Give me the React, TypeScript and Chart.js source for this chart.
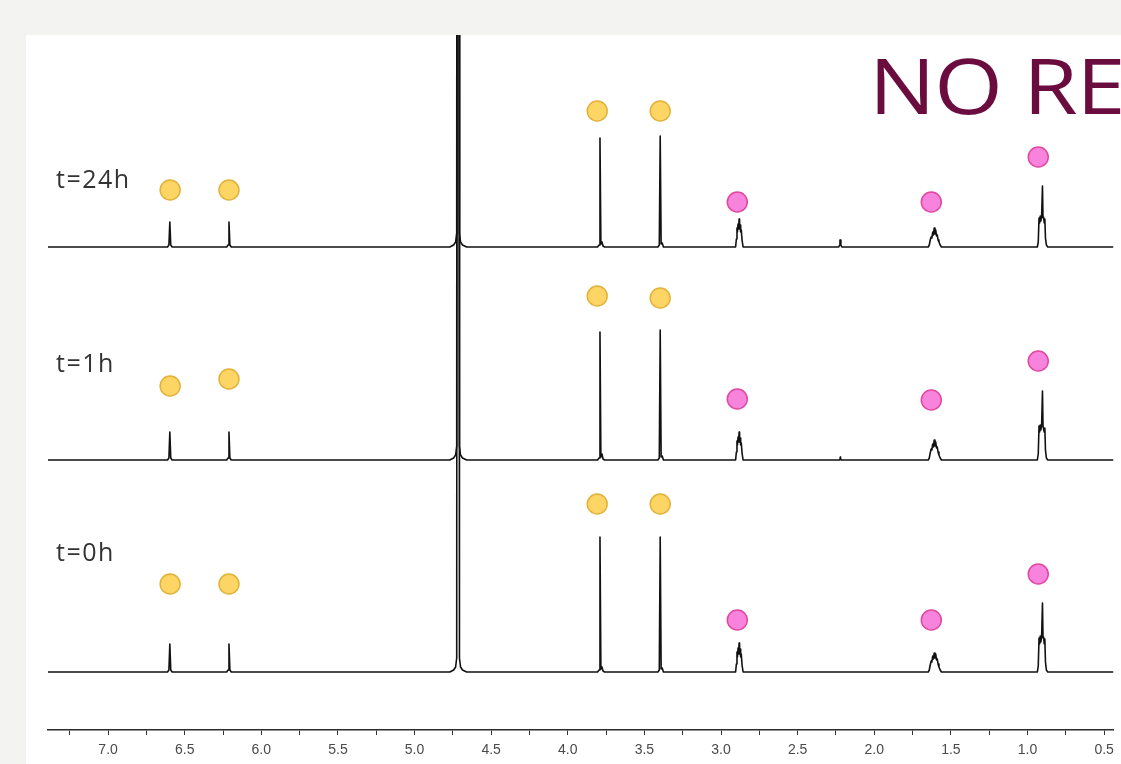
import React, { useEffect, useRef } from 'react';
import { Chart, registerables } from 'chart.js';

Chart.register(...registerables);

// ---- axis (ppm) ----
const ppmMin = 0.439;
const ppmMax = 7.392;
const majorTicks = [7.0, 6.5, 6.0, 5.5, 5.0, 4.5, 4.0, 3.5, 3.0, 2.5, 2.0, 1.5, 1.0, 0.5];
const minorTicks = [7.25, 6.75, 6.25, 5.75, 5.25, 4.75, 4.25, 3.75, 3.25, 2.75, 2.25, 1.75, 1.25, 0.75];

// ---- stacking (intensity units) ----
const spectrumLabels = ['t=0h', 't=1h', 't=24h'];
const stackOffsets = [58, 270, 483];
const intensityMax = 695;

// ---- spectra: [ppm, intensity above own baseline] ----
const spectrum0h: [number, number][] = [
  [7.392, 0],
  [6.612, 0], [6.603, 2], [6.597, 28], [6.591, 2], [6.582, 0],
  [6.226, 0], [6.217, 2], [6.211, 28], [6.205, 2], [6.196, 0],
  [4.77, 0], [4.745, 2], [4.732, 5], [4.725, 14], [4.7225, 900], [4.7095, 900], [4.707, 14], [4.70, 5], [4.687, 2], [4.66, 0],
  [3.806, 0], [3.796, 2], [3.790, 135], [3.784, 3], [3.777, 5], [3.770, 1], [3.760, 0],
  [3.412, 0], [3.403, 2], [3.397, 135], [3.391, 3], [3.384, 4], [3.376, 0],
  [2.905, 0], [2.900, 8], [2.896, 20], [2.893, 15], [2.889, 24], [2.886, 18], [2.882, 29], [2.879, 18], [2.875, 23], [2.872, 15], [2.868, 18], [2.863, 7], [2.856, 0],
  [1.648, 0], [1.641, 2], [1.635, 7], [1.629, 11], [1.624, 10], [1.619, 16], [1.614, 13], [1.609, 19], [1.604, 14], [1.599, 18], [1.594, 12], [1.589, 13], [1.584, 8], [1.578, 5], [1.570, 2], [1.562, 0],
  [0.936, 0], [0.930, 6], [0.925, 34], [0.921, 28], [0.917, 36], [0.913, 30], [0.908, 36], [0.9025, 69], [0.899, 34], [0.895, 35], [0.891, 28], [0.887, 33], [0.883, 10], [0.877, 2], [0.868, 0],
  [0.439, 0],
];

const spectrum1h: [number, number][] = [
  [7.392, 0],
  [6.612, 0], [6.603, 2], [6.597, 28], [6.591, 2], [6.582, 0],
  [6.226, 0], [6.217, 2], [6.211, 28], [6.205, 2], [6.196, 0],
  [4.77, 0], [4.745, 2], [4.732, 5], [4.725, 14], [4.7225, 900], [4.7095, 900], [4.707, 14], [4.70, 5], [4.687, 2], [4.66, 0],
  [3.806, 0], [3.796, 2], [3.790, 128], [3.784, 3], [3.777, 6], [3.770, 1], [3.760, 0],
  [3.412, 0], [3.403, 2], [3.397, 130], [3.391, 3], [3.384, 4], [3.376, 0],
  [2.905, 0], [2.900, 8], [2.896, 19], [2.893, 15], [2.889, 23], [2.886, 18], [2.882, 28], [2.879, 18], [2.875, 22], [2.872, 15], [2.868, 17], [2.863, 7], [2.856, 0],
  [2.230, 0], [2.224, 1], [2.222, 3], [2.220, 1], [2.214, 0],
  [1.648, 0], [1.641, 2], [1.635, 7], [1.629, 11], [1.624, 10], [1.619, 16], [1.614, 13], [1.609, 20], [1.604, 14], [1.599, 18], [1.594, 12], [1.589, 13], [1.584, 8], [1.578, 5], [1.570, 2], [1.562, 0],
  [0.936, 0], [0.930, 6], [0.925, 34], [0.921, 28], [0.917, 35], [0.913, 30], [0.908, 35], [0.9025, 69], [0.899, 34], [0.895, 34], [0.891, 28], [0.887, 32], [0.883, 10], [0.877, 2], [0.868, 0],
  [0.439, 0],
];

const spectrum24h: [number, number][] = [
  [7.392, 0],
  [6.612, 0], [6.603, 2], [6.597, 25], [6.591, 2], [6.582, 0],
  [6.226, 0], [6.217, 2], [6.211, 25], [6.205, 2], [6.196, 0],
  [4.77, 0], [4.745, 2], [4.732, 5], [4.725, 14], [4.7225, 900], [4.7095, 900], [4.707, 14], [4.70, 5], [4.687, 2], [4.66, 0],
  [3.806, 0], [3.796, 2], [3.790, 109], [3.784, 3], [3.777, 5], [3.770, 1], [3.760, 0],
  [3.412, 0], [3.403, 2], [3.397, 111], [3.391, 3], [3.384, 4], [3.376, 0],
  [2.905, 0], [2.900, 8], [2.896, 19], [2.893, 15], [2.889, 23], [2.886, 18], [2.882, 28], [2.879, 18], [2.875, 22], [2.872, 15], [2.868, 17], [2.863, 7], [2.856, 0],
  [2.232, 0], [2.226, 2], [2.224, 7], [2.220, 7], [2.218, 2], [2.212, 0],
  [1.648, 0], [1.641, 2], [1.635, 7], [1.629, 10], [1.624, 9], [1.619, 15], [1.614, 12], [1.609, 19], [1.604, 13], [1.599, 17], [1.594, 11], [1.589, 12], [1.584, 7], [1.578, 5], [1.570, 2], [1.562, 0],
  [0.936, 0], [0.930, 5], [0.925, 29], [0.921, 24], [0.917, 31], [0.913, 26], [0.908, 31], [0.9025, 61], [0.899, 29], [0.895, 30], [0.891, 24], [0.887, 28], [0.883, 9], [0.877, 2], [0.868, 0],
  [0.439, 0],
];

const spectra = [spectrum0h, spectrum1h, spectrum24h];

// ---- peak markers: [ppm, height above own baseline] ----
const yellowMarkers: [number, number][][] = [
  [[6.595, 88], [6.211, 88], [3.808, 168], [3.397, 168]],
  [[6.595, 74], [6.211, 81], [3.808, 164], [3.397, 162]],
  [[6.595, 57], [6.211, 57], [3.808, 136], [3.397, 136]],
];
const pinkMarkers: [number, number][][] = [
  [[2.894, 52], [1.628, 52], [0.930, 98]],
  [[2.894, 61], [1.628, 60], [0.930, 99]],
  [[2.894, 45], [1.628, 45], [0.930, 90]],
];

const labelTops = [539, 350, 166];

export default function App() {
  const canvasRef = useRef<HTMLCanvasElement | null>(null);

  useEffect(() => {
    const canvas = canvasRef.current;
    if (!canvas) return;

    const datasets: any[] = [];
    spectra.forEach((s, i) => {
      datasets.push({
        type: 'line',
        label: spectrumLabels[i],
        data: s.map(([x, y]) => ({ x, y: y + stackOffsets[i] })),
        borderColor: '#111111',
        borderWidth: 1.6,
        borderJoinStyle: 'round',
        pointRadius: 0,
        fill: false,
        tension: 0,
        order: 2,
      });
    });
    yellowMarkers.forEach((m, i) => {
      datasets.push({
        type: 'scatter',
        label: 'yellow ' + spectrumLabels[i],
        data: m.map(([x, y]) => ({ x, y: y + stackOffsets[i] })),
        showLine: false,
        pointRadius: 10,
        pointBackgroundColor: '#fcd565',
        pointBorderColor: '#e2b23a',
        pointBorderWidth: 1.5,
        order: 0,
      });
    });
    pinkMarkers.forEach((m, i) => {
      datasets.push({
        type: 'scatter',
        label: 'pink ' + spectrumLabels[i],
        data: m.map(([x, y]) => ({ x, y: y + stackOffsets[i] })),
        showLine: false,
        pointRadius: 10,
        pointBackgroundColor: '#f783dc',
        pointBorderColor: '#e2479f',
        pointBorderWidth: 1.5,
        order: 0,
      });
    });

    const tickValues = [...majorTicks, ...minorTicks].sort((a, b) => a - b);

    const chart = new Chart(canvas, {
      type: 'line',
      data: { datasets },
      options: {
        animation: false,
        responsive: false,
        devicePixelRatio: 1,
        layout: { padding: { left: 48, right: 4, top: 35, bottom: 0 } },
        plugins: { legend: { display: false }, tooltip: { enabled: false } },
        scales: {
          x: {
            type: 'linear',
            reverse: true,
            min: ppmMin,
            max: ppmMax,
            afterBuildTicks: (scale: any) => {
              scale.ticks = tickValues.map((v) => ({ value: v }));
            },
            afterFit: (scale: any) => {
              scale.height = 34;
              scale.paddingLeft = 0;
              scale.paddingRight = 0;
            },
            ticks: {
              autoSkip: false,
              maxRotation: 0,
              minRotation: 0,
              padding: 7,
              color: '#4a4a4a',
              font: { family: '"Liberation Sans", Arial, sans-serif', size: 14 },
              callback: (v: any) => (majorTicks.includes(Number(v)) ? Number(v).toFixed(1) : ''),
            },
            grid: {
              drawOnChartArea: false,
              drawTicks: true,
              tickLength: 5,
              color: '#333',
              lineWidth: 1,
            },
            border: { display: true, color: '#2a2a2a', width: 1.5 },
          },
          y: { display: false, min: 0, max: intensityMax },
        },
      },
    });
    return () => chart.destroy();
  }, []);

  return (
    <div
      style={{
        position: 'fixed',
        left: 0,
        top: 0,
        width: 1121,
        height: 764,
        background: '#f3f3f1',
        overflow: 'hidden',
      }}
    >
      <div style={{ position: 'absolute', left: 26, top: 35, right: 0, bottom: 0, background: '#ffffff' }} />
      <canvas
        ref={canvasRef}
        width={1125}
        height={764}
        style={{ position: 'absolute', left: 0, top: 0, width: 1125, height: 764, display: 'block' }}
      />
      {spectrumLabels.map((t, i) => (
        <div
          key={t}
          style={{
            position: 'absolute',
            left: 56,
            top: labelTops[i],
            fontFamily: '"Open Sans", sans-serif',
            fontSize: 25,
            lineHeight: 1,
            letterSpacing: 1.5,
            color: '#333',
            whiteSpace: 'nowrap',
          }}
        >
          {t}
        </div>
      ))}
      <div
        style={{
          position: 'absolute',
          left: 869,
          top: 47,
          fontFamily: '"Open Sans", sans-serif',
          fontSize: 76,
          fontWeight: 400,
          lineHeight: 1,
          letterSpacing: -1,
          color: '#6a0d3e',
          whiteSpace: 'nowrap',
          transform: 'scaleX(1.16)',
          transformOrigin: 'left top',
        }}
      >
        NO RE
      </div>
    </div>
  );
}
